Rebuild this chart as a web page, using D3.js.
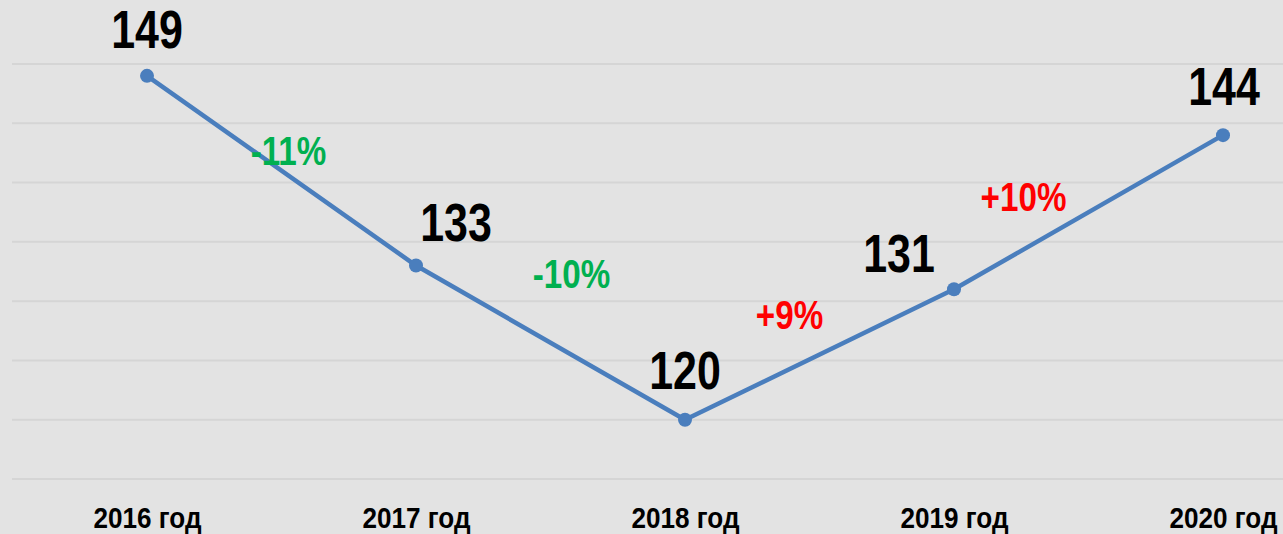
<!DOCTYPE html>
<html><head><meta charset="utf-8">
<script src="https://cdn.jsdelivr.net/npm/d3@7"></script>
<style>
html,body{margin:0;padding:0;background:#e3e3e3;}
svg{display:block;}
text{font-family:"Liberation Sans",Arial,sans-serif;font-weight:bold;}
</style></head>
<body>
<svg id="chart" width="1283" height="534"></svg>
<script>
const categories = ["2016 год","2017 год","2018 год","2019 год","2020 год"];
const values = [149,133,120,131,144];
const changeLabels = ["-11%","-10%","+9%","+10%"];
const gridTicks = [115,120,125,130,135,140,145,150];

const W = 1283, H = 534;
const NARROW = 0.81;
const svg = d3.select("#chart");
svg.append("rect").attr("width",W).attr("height",H).attr("fill","#e3e3e3");

const x = d3.scalePoint().domain(categories).range([147,1223]);
const y = d3.scaleLinear().domain([115,150]).range([479,64]);

// gridlines
svg.append("g").selectAll("line").data(gridTicks).join("line")
  .attr("x1",12).attr("x2",W)
  .attr("y1",d=>y(d)).attr("y2",d=>y(d))
  .attr("stroke","#d5d5d5").attr("stroke-width",2);

// x axis labels
const xAxis = d3.axisBottom(x).tickSize(0).tickPadding(0);
const gx = svg.append("g").attr("transform","translate(0,528)").call(xAxis);
gx.select(".domain").remove();
gx.selectAll("text").attr("font-size",29).attr("fill","#000")
  .attr("font-family","Liberation Sans, Arial, sans-serif")
  .attr("font-weight","bold")
  .attr("y",0).attr("dy",0)
  .attr("transform","scale(0.9,1)");

// line
const line = d3.line().x((d,i)=>x(categories[i])).y(d=>y(d));
svg.append("path").datum(values).attr("d",line)
  .attr("fill","none").attr("stroke","#4a7ebd").attr("stroke-width",4.5)
  .attr("stroke-linejoin","round");

svg.append("g").selectAll("circle").data(values).join("circle")
  .attr("cx",(d,i)=>x(categories[i])).attr("cy",d=>y(d)).attr("r",7)
  .attr("fill","#4a7ebd");

// value labels (manual offsets like the original)
const valOffsets = [[0,-28],[40,-25],[0,-31],[-55,-17],[1,-30]];
svg.append("g").selectAll("text").data(values).join("text")
  .attr("transform",(d,i)=>`translate(${x(categories[i])+valOffsets[i][0]},${y(d)+valOffsets[i][1]}) scale(${NARROW},1)`)
  .attr("text-anchor","middle").attr("font-size",53).attr("fill","#000")
  .text(d=>d);

// change labels
const chgOffsets = [[7,-6],[21,-55],[-30,-26],[-65,-1]];
const chgColors = changeLabels.map(s=>s.startsWith("-")?"#00b050":"#ff0000");
svg.append("g").selectAll("text").data(changeLabels).join("text")
  .attr("transform",(d,i)=>`translate(${(x(categories[i])+x(categories[i+1]))/2+chgOffsets[i][0]},${(y(values[i])+y(values[i+1]))/2+chgOffsets[i][1]}) scale(${NARROW},1)`)
  .attr("text-anchor","middle").attr("font-size",41)
  .attr("fill",(d,i)=>chgColors[i])
  .text(d=>d);
</script>
</body></html>
